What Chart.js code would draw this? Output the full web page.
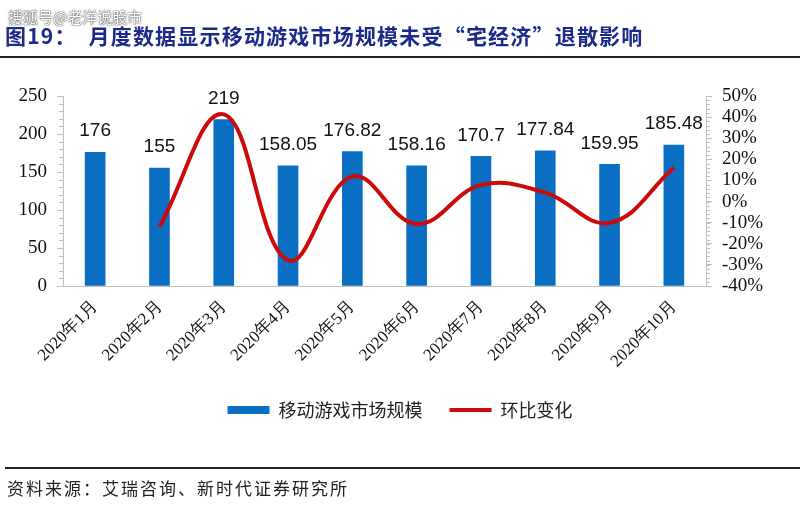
<!DOCTYPE html>
<html>
<head>
<meta charset="utf-8">
<script src="https://cdn.jsdelivr.net/npm/chart.js@4.4.0/dist/chart.umd.min.js"></script>
<style>
  body { margin: 0; background: #fff; }
  #wrap { position: relative; width: 800px; height: 517px; overflow: hidden; }
  #myChart { position: absolute; left: 0; top: 0; }
  .mark { position: absolute; left: 8px; top: 6px; font: 15px "Noto Sans CJK SC"; color: #fff;
    text-shadow: 0 0 2px #333, 0 0 1px #333; }
  .title { position: absolute; left: 5px; top: 20px; font: bold 21px "Noto Sans CJK SC"; color: #1c2a8a;
    letter-spacing: 1.2px; white-space: pre; }
  .line1 { position: absolute; left: 0; top: 56px; width: 800px; height: 2px; background: #222; }
  .line2 { position: absolute; left: 5px; top: 467px; width: 795px; height: 2px; background: #222; }
  .source { position: absolute; left: 7px; top: 475px; font: 17px "Noto Sans CJK SC"; color: #222; letter-spacing: 2px; }
</style>
</head>
<body>
<div id="wrap">
  <canvas id="myChart" width="800" height="517"></canvas>
  <div class="title">图19：  月度数据显示移动游戏市场规模未受“宅经济”退散影响</div>
  <div class="mark">搜狐号@老洋说股市</div>
  <div class="line1"></div>
  <div class="line2"></div>
  <div class="source">资料来源：艾瑞咨询、新时代证券研究所</div>
</div>
<script>
// 데이터
const months = ["2020年1月", "2020年2月", "2020年3月", "2020年4月", "2020年5月",
  "2020年6月", "2020年7月", "2020年8月", "2020年9月", "2020年10月"];
const marketSize = [176, 155, 219, 158.05, 176.82, 158.16, 170.7, 177.84, 159.95, 185.48];
const momChange = [null, -11.9, 41.3, -27.8, 11.9, -10.6, 7.9, 4.2, -10.1, 16.0];
const leftTicks = [0, 50, 100, 150, 200, 250];
const rightTicks = [-40, -30, -20, -10, 0, 10, 20, 30, 40, 50];

const axisGray = "#bfbfbf";
const serif = "Liberation Serif";

// 막대 위 숫자
const barLabels = {
  id: "barLabels",
  afterDatasetsDraw(chart) {
    const ctx = chart.ctx;
    const meta = chart.getDatasetMeta(0);
    ctx.save();
    ctx.font = "19px 'Liberation Sans'";
    ctx.fillStyle = "#111";
    ctx.textAlign = "center";
    ctx.textBaseline = "middle";
    meta.data.forEach((bar, i) => {
      ctx.fillText(String(marketSize[i]), bar.x, bar.y - 21);
    });
    ctx.restore();
  }
};

// 작은 눈금
const minorTicks = {
  id: "minorTicks",
  afterDraw(chart) {
    const ctx = chart.ctx;
    const y = chart.scales.y;
    const y1 = chart.scales.y1;
    ctx.save();
    ctx.strokeStyle = axisGray;
    ctx.lineWidth = 1;
    ctx.beginPath();
    for (let v = 0; v <= 250; v += 10) {
      const p = Math.round(y.getPixelForValue(v)) + 0.5;
      ctx.moveTo(y.right - 4, p);
      ctx.lineTo(y.right, p);
    }
    for (let v = -40; v <= 50; v += 2) {
      const p = Math.round(y1.getPixelForValue(v)) + 0.5;
      ctx.moveTo(y1.left, p);
      ctx.lineTo(y1.left + 4, p);
    }
    ctx.stroke();
    ctx.restore();
  }
};

const context = document.getElementById("myChart").getContext("2d");
const myChart = new Chart(context, {
  type: "bar",
  data: {
    labels: months,
    datasets: [
      {
        label: "移动游戏市场规模",
        data: marketSize,
        backgroundColor: "#0a6fc2",
        barThickness: 20,
        pointStyle: "rect",
        yAxisID: "y",
        order: 2
      },
      {
        label: "环比变化",
        type: "line",
        data: momChange,
        borderColor: "#cc0a0a",
        backgroundColor: "#cc0a0a",
        borderWidth: 4,
        tension: 0.4,
        pointRadius: 0,
        pointStyle: "line",
        yAxisID: "y1",
        order: 1
      }
    ]
  },
  options: {
    responsive: false,
    animation: false,
    layout: { padding: { top: 96, left: 0, right: 0, bottom: 88 } },
    plugins: {
      tooltip: { enabled: false },
      legend: {
        position: "bottom",
        labels: {
          font: { family: "Noto Sans CJK SC", size: 18 },
          color: "#222",
          usePointStyle: true,
          pointStyleWidth: 42,
          boxHeight: 8,
          padding: 27,
          sort: (a, b) => a.datasetIndex - b.datasetIndex
        }
      }
    },
    scales: {
      x: {
        offset: true,
        grid: { display: false },
        border: { color: axisGray },
        ticks: {
          minRotation: 45, maxRotation: 45,
          font: { family: serif, size: 17 },
          color: "#111"
        },
        afterFit: (s) => { s.height = 88; }
      },
      y: {
        position: "left",
        min: 0, max: 250,
        afterBuildTicks: (s) => { s.ticks = leftTicks.map(v => ({ value: v })); },
        grid: { drawOnChartArea: false, tickLength: 6, color: axisGray },
        border: { color: axisGray },
        ticks: { autoSkip: false, font: { family: serif, size: 19 }, color: "#111", padding: 10 },
        afterFit: (s) => { s.width = 63; }
      },
      y1: {
        position: "right",
        min: -40, max: 50,
        afterBuildTicks: (s) => { s.ticks = rightTicks.map(v => ({ value: v })); },
        grid: { drawOnChartArea: false, tickLength: 6, color: axisGray },
        border: { color: axisGray },
        ticks: {
          autoSkip: false,
          font: { family: serif, size: 19 }, color: "#111", padding: 10,
          callback: (v) => v + "%"
        },
        afterFit: (s) => { s.width = 94; }
      }
    }
  },
  plugins: [barLabels, minorTicks]
});
</script>
</body>
</html>
